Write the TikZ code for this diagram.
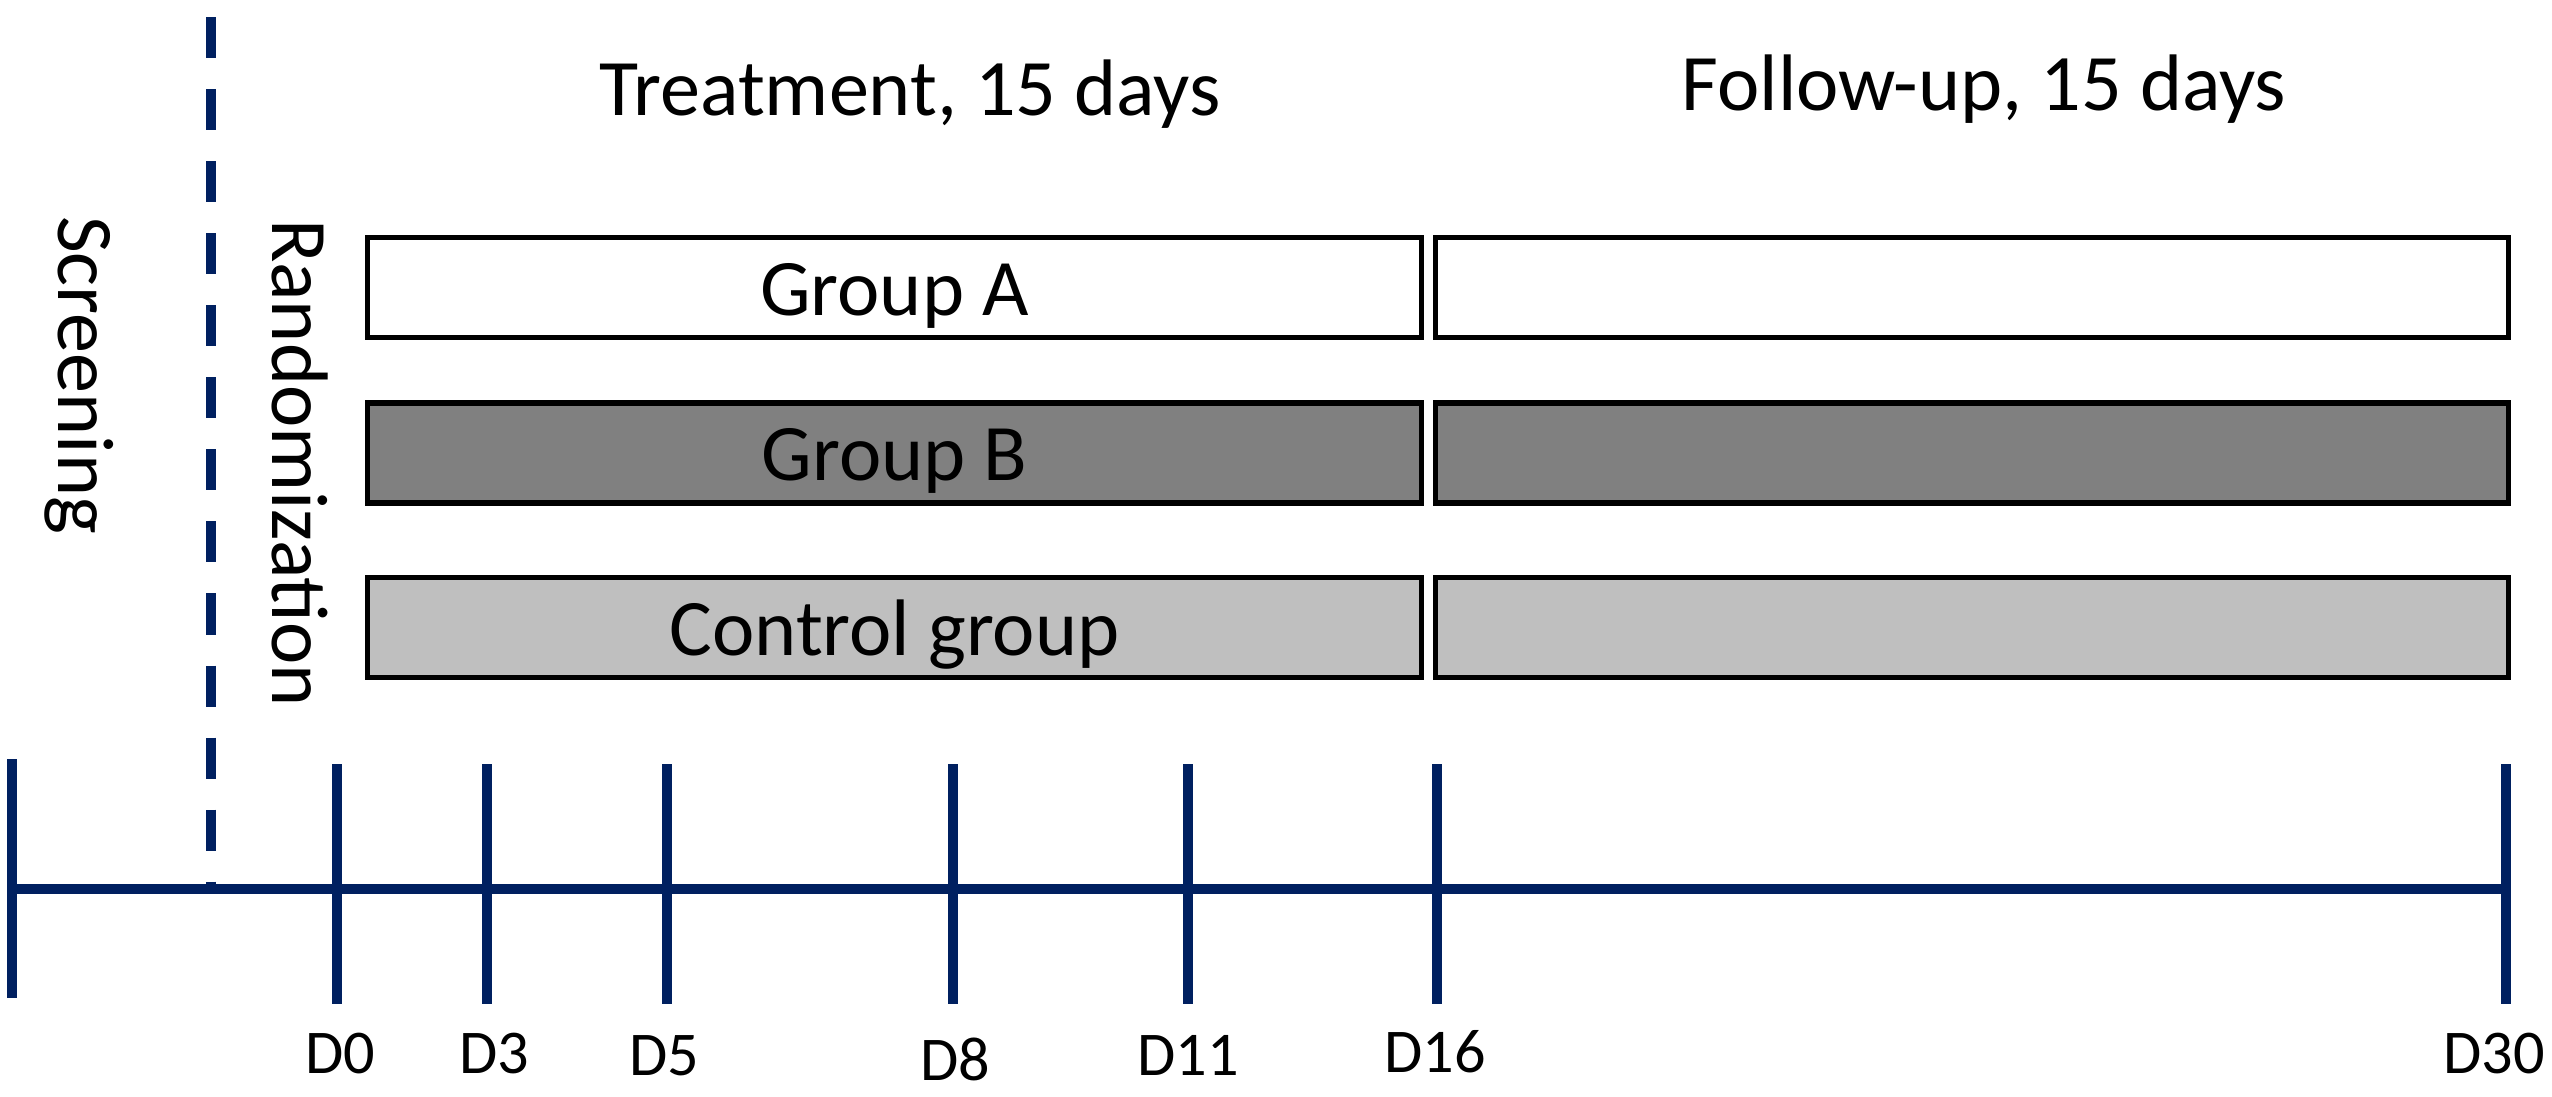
\documentclass[tikz,border=0pt]{standalone}
\usepackage{fontspec}
\setmainfont{Carlito}
\definecolor{navy}{HTML}{002060}
\definecolor{grpB}{HTML}{808080}
\definecolor{grpC}{HTML}{BFBFBF}
\begin{document}
\begin{tikzpicture}[x=0.01cm,y=-0.01cm,
  box/.style={draw=black, line width=1.56pt, inner sep=0pt, minimum height=1cm},
  lbox/.style={box, minimum width=10.535cm},
  rbox/.style={box, minimum width=10.725cm},
  big/.style={font=\fontsize{22.8pt}{27pt}\selectfont, inner sep=0pt, anchor=base},
  day/.style={font=\fontsize{17.7pt}{21pt}\selectfont, inner sep=0pt, anchor=base},
  axisline/.style={draw=navy, line width=2.85pt},
  tickline/.style={draw=navy, line width=2.75pt},
  randline/.style={draw=navy, line width=2.85pt, dash pattern=on 11.67pt off 8.82pt}]
\useasboundingbox (0,0) rectangle (2552,1096);

% titles
\node[big] (ttreat) at (910,115) {Treatment, 15 days};
\node[big] (tfollow) at (1984,110) {Follow-up, 15 days};

% vertical labels
\node[big, rotate=-90] (tscreen) at (58,375) {Screening};
\node[big, rotate=-90] (trand) at (272,463) {Randomization};

% boxes
\node[lbox, fill=white] (a1) at (894.5,287.5) {};
\node[rbox, fill=white] (a2) at (1972,287.5) {};
\node[lbox, fill=grpB] (b1) at (894.5,453) {};
\node[rbox, fill=grpB] (b2) at (1972,453) {};
\node[lbox, fill=grpC] (c1) at (894.5,627.5) {};
\node[rbox, fill=grpC] (c2) at (1972,627.5) {};
\node[big] (la) at (894.5,315) {Group A};
\node[big] (lb) at (894.5,480) {Group B};
\node[big] (lc) at (894.5,655) {Control group};

% randomization dashed line
\coordinate (rtop) at (211,17);
\coordinate (rbot) at (211,889);
\draw[randline] (rtop) -- (rbot);

% ticks
\coordinate (s0) at (12,759);  \coordinate (s1) at (12,998);
\draw[tickline] (s0) -- (s1);
\foreach \n/\x in {d0/337,d3/487,d5/667,d8/953,d11/1188,d16/1437,d30/2506}{
  \coordinate (\n t) at (\x,764);
  \coordinate (\n b) at (\x,1004);
  \draw[tickline] (\n t) -- (\n b);
}
% axis
\coordinate (axL) at (12,889);
\coordinate (axR) at (2506,889);
\draw[axisline] (axL) -- (axR);

% day labels
\node[day] (ld0) at (340,1073) {D0};
\node[day] (ld3) at (494,1073) {D3};
\node[day] (ld5) at (664,1075) {D5};
\node[day] (ld8) at (955,1080) {D8};
\node[day] (ld11) at (1188,1075) {D11};
\node[day] (ld16) at (1435,1072) {D16};
\node[day] (ld30) at (2494,1073) {D30};
\end{tikzpicture}
\end{document}
